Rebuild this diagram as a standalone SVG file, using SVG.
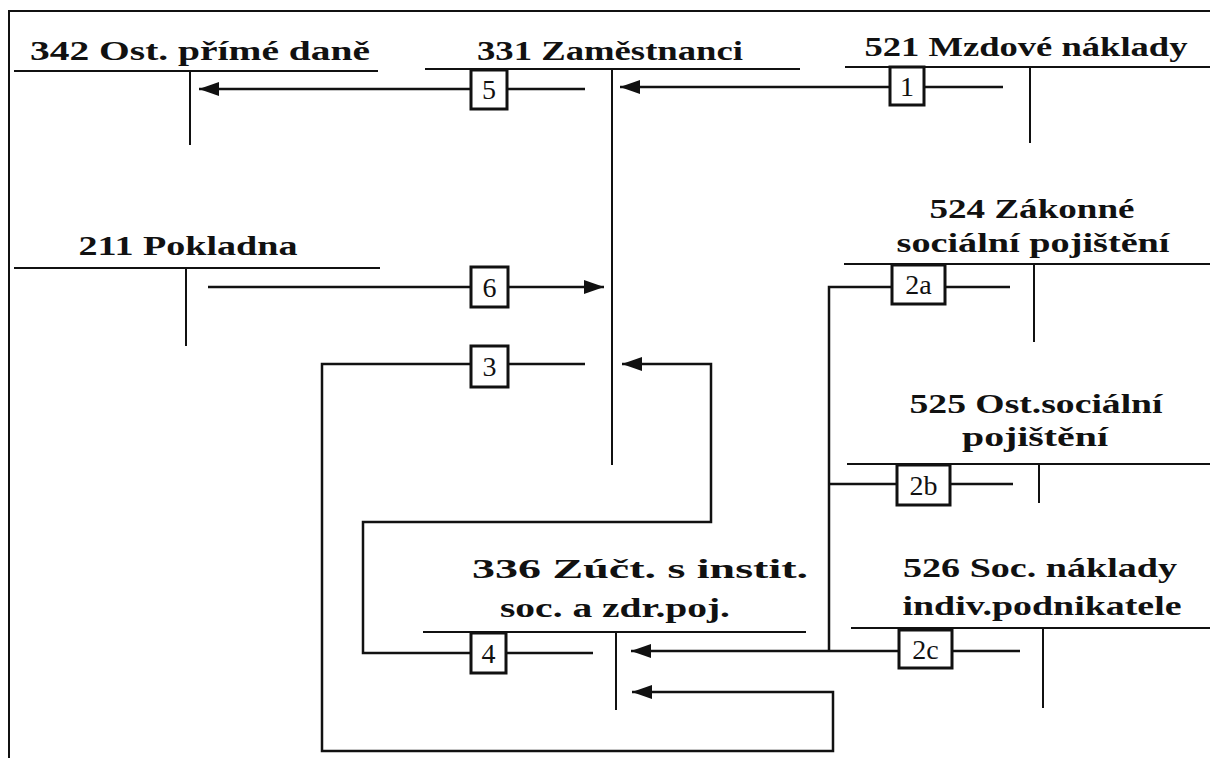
<svg xmlns="http://www.w3.org/2000/svg" width="1210" height="758" viewBox="0 0 1210 758">
<style>
.bg{fill:#fff}
.frame{fill:none;stroke:#111;stroke-width:2}
.acc{fill:none;stroke:#111;stroke-width:2}
.t{font-family:"Liberation Serif","DejaVu Serif",serif;font-weight:bold;font-size:27px;fill:#111;text-anchor:middle}
.c{fill:none;stroke:#111;stroke-width:2.5}
.box{fill:#fff;stroke:#111;stroke-width:3}
.bl{font-family:"Liberation Serif","DejaVu Serif",serif;font-size:28px;fill:#111;text-anchor:middle}
</style>
<defs>
<marker id="ah" markerUnits="userSpaceOnUse" markerWidth="22" markerHeight="16" refX="20" refY="7" orient="auto">
<path d="M0,0 L20,7 L0,14 z" fill="#111"/>
</marker>
</defs>
<rect class="bg" x="0" y="0" width="1210" height="758"/>
<path class="frame" d="M9,758 V11 H1210"/>

<g id="acc342">
<path class="acc" d="M14,71 H378 M190,71 V145"/>
<text class="t" x="200" y="60" textLength="340" lengthAdjust="spacingAndGlyphs">342 Ost. přímé daně</text>
</g>
<g id="acc331">
<path class="acc" d="M425,69 H800 M612,69 V465"/>
<text class="t" x="610" y="60" textLength="266" lengthAdjust="spacingAndGlyphs">331 Zaměstnanci</text>
</g>
<g id="acc521">
<path class="acc" d="M845,67 H1210 M1030,67 V143"/>
<text class="t" x="1026" y="56" textLength="323" lengthAdjust="spacingAndGlyphs">521 Mzdové náklady</text>
</g>
<g id="acc211">
<path class="acc" d="M14,268 H380 M186,268 V346"/>
<text class="t" x="188" y="255" textLength="219" lengthAdjust="spacingAndGlyphs">211 Pokladna</text>
</g>
<g id="acc524">
<path class="acc" d="M844,264 H1210 M1034,264 V342"/>
<text class="t" x="1032" y="218" textLength="205" lengthAdjust="spacingAndGlyphs">524 Zákonné</text>
<text class="t" x="1033" y="252" textLength="273" lengthAdjust="spacingAndGlyphs">sociální pojištění</text>
</g>
<g id="acc525">
<path class="acc" d="M847,464 H1210 M1039,464 V503"/>
<text class="t" x="1036" y="413" textLength="253" lengthAdjust="spacingAndGlyphs">525 Ost.sociální</text>
<text class="t" x="1035" y="446" textLength="146" lengthAdjust="spacingAndGlyphs">pojištění</text>
</g>
<g id="acc336">
<path class="acc" d="M423,632 H806 M616,632 V710"/>
<text class="t" x="640" y="578" textLength="336" lengthAdjust="spacingAndGlyphs">336 Zúčt. s instit.</text>
<text class="t" x="615" y="617" textLength="230" lengthAdjust="spacingAndGlyphs">soc. a zdr.poj.</text>
</g>
<g id="acc526">
<path class="acc" d="M851,628 H1210 M1043,628 V708"/>
<text class="t" x="1040" y="577" textLength="274" lengthAdjust="spacingAndGlyphs">526 Soc. náklady</text>
<text class="t" x="1042" y="615" textLength="279" lengthAdjust="spacingAndGlyphs">indiv.podnikatele</text>
</g>

<g id="connectors">
<path class="c" d="M1003,87 H620" marker-end="url(#ah)"/>
<path class="c" d="M585,89 H199" marker-end="url(#ah)"/>
<path class="c" d="M208,287 H604" marker-end="url(#ah)"/>
<path class="c" d="M585,364 H322 V751 H833 V692 H632" marker-end="url(#ah)"/>
<path class="c" d="M593,653 H363 V522 H711 V364 H622" marker-end="url(#ah)"/>
<path class="c" d="M1010,287 H829 V651"/>
<path class="c" d="M829,484 H1013"/>
<path class="c" d="M1020,651 H631" marker-end="url(#ah)"/>

<g id="lbl1"><rect class="box" x="890" y="67" width="34" height="38"/><text class="bl" x="907" y="96">1</text></g>
<g id="lbl5"><rect class="box" x="471" y="70" width="36" height="39"/><text class="bl" x="489" y="99">5</text></g>
<g id="lbl6"><rect class="box" x="471" y="267" width="37" height="40"/><text class="bl" x="489.5" y="297">6</text></g>
<g id="lbl3"><rect class="box" x="471" y="346" width="37" height="41"/><text class="bl" x="489.5" y="376">3</text></g>
<g id="lbl4"><rect class="box" x="471" y="633" width="35" height="40"/><text class="bl" x="488.5" y="663">4</text></g>
<g id="lbl2a"><rect class="box" x="892" y="265" width="53" height="39"/><text class="bl" x="918.5" y="294">2a</text></g>
<g id="lbl2b"><rect class="box" x="897" y="465" width="53" height="40"/><text class="bl" x="923.5" y="495">2b</text></g>
<g id="lbl2c"><rect class="box" x="899" y="630" width="53" height="38"/><text class="bl" x="925.5" y="659">2c</text></g>
</g>
</svg>
